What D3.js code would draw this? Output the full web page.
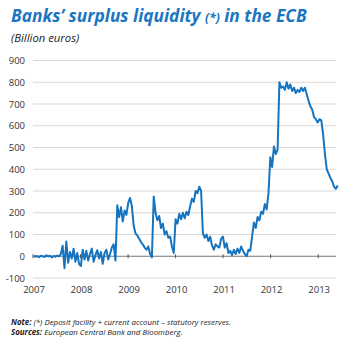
<!DOCTYPE html>
<html><head><meta charset="utf-8">
<script src="https://cdn.jsdelivr.net/npm/d3@7"></script>
<style>body{margin:0;background:#fff;}svg{display:block;}</style>
</head><body>
<svg id="c" width="341" height="338"></svg>
<script>
// Biweekly observations starting 2007-01-05 (billion euros)
const startDate = "2007-01-05";
const stepDays = 14;
const values2007 = [3,-2,1,-4,2,0,-3,4,-1,2,-5,1,-2,3,-1,10,48,-55,68,-30,20,-10,35,-25,15,-35];
const values2008 = [-45,30,-15,25,-20,10,35,-25,5,28,-10,20,-35,15,30,-15,10,40,55,-20,235,180,225,160,210,190];
const values2009 = [245,268,230,140,105,95,80,65,55,40,30,45,10,-5,275,200,165,185,130,150,100,115,85,90,45,15];
const values2010 = [170,150,195,170,200,175,205,190,230,265,250,300,290,320,300,105,85,100,70,90,50,30,55,45,40,80];
const values2011 = [90,40,60,15,25,5,30,10,35,15,45,25,10,0,30,25,90,155,130,180,165,205,195,240,215,290,455];
const values2012 = [410,505,470,490,800,775,780,765,800,770,790,760,775,750,765,755,775,760,775,745,715,690,675,640,630,615];
const values2013 = [630,625,560,470,400,380,360,345,320,310,325];
const yTicks = [-100,0,100,200,300,400,500,600,700,800,900];
const xTickYears = [2007,2008,2009,2010,2011,2012,2013];
const domainEnd = "2013-05-18";

(function(){
const values = [].concat(values2007, values2008, values2009, values2010, values2011, values2012, values2013);
const parse = d3.utcParse("%Y-%m-%d");
const t0 = parse(startDate);
const data = values.map((v, i) => ({date: d3.utcDay.offset(t0, i * stepDays), value: v}));

const svg = d3.select("#c");
const mLeft = 33, mRight = 336, mTop = 60.5, mBottom = 278;
const x = d3.scaleUtc().domain([new Date(Date.UTC(2007,0,1)), parse(domainEnd)]).range([mLeft, mRight]);
const y = d3.scaleLinear().domain([-100, 900]).range([mBottom, mTop]);

// title
const title = svg.append("text").attr("x", 11).attr("y", 22)
  .attr("font-family", "'Open Sans', sans-serif").attr("font-weight", "bold").attr("font-style", "italic")
  .attr("font-size", 17.3).attr("fill", "#1b76c2");
title.append("tspan").text("Banks’ surplus liquidity ");
title.append("tspan").attr("font-size", 12).text("(*)");
title.append("tspan").text(" in the ECB");

svg.append("text").attr("x", 11).attr("y", 42)
  .attr("font-family", "'Open Sans', sans-serif").attr("font-style", "italic")
  .attr("font-size", 11.3).attr("fill", "#222").text("(Billion euros)");

// gridlines
svg.append("g").selectAll("line").data(yTicks.filter(d => d !== 0)).join("line")
  .attr("x1", mLeft).attr("x2", mRight).attr("y1", d => y(d)).attr("y2", d => y(d))
  .attr("stroke", "#d9d9d9").attr("stroke-width", 1);

// y labels
svg.append("g").selectAll("text").data(yTicks).join("text")
  .attr("x", 25).attr("y", d => y(d) + 3.5).attr("text-anchor", "end")
  .attr("font-family", "'Open Sans', sans-serif").attr("font-size", 9.5).attr("fill", "#333")
  .text(d => d);

// zero axis
svg.append("line").attr("x1", mLeft).attr("x2", mRight).attr("y1", y(0)).attr("y2", y(0))
  .attr("stroke", "#777").attr("stroke-width", 1);
const yearDate = yr => new Date(Date.UTC(yr, 0, 1));
svg.append("g").selectAll("line").data(xTickYears).join("line")
  .attr("x1", d => x(yearDate(d))).attr("x2", d => x(yearDate(d)))
  .attr("y1", y(0) - 2).attr("y2", y(0) + 2).attr("stroke", "#555");

// x labels
svg.append("g").selectAll("text").data(xTickYears).join("text")
  .attr("x", d => x(yearDate(d)) + 1).attr("y", 293).attr("text-anchor", "middle")
  .attr("font-family", "'Open Sans', sans-serif").attr("font-size", 9.5).attr("fill", "#333")
  .text(d => d);

// line
svg.append("path").datum(data)
  .attr("d", d3.line().x(d => x(d.date)).y(d => y(d.value)))
  .attr("fill", "none").attr("stroke", "#1574c0").attr("stroke-width", 2).attr("stroke-linejoin", "round");

// notes
const n1 = svg.append("text").attr("x", 11).attr("y", 325)
  .attr("font-family", "'Open Sans', sans-serif").attr("font-style", "italic").attr("font-size", 7.9).attr("fill", "#222");
n1.append("tspan").attr("font-weight", "bold").text("Note:");
n1.append("tspan").text(" (*) Deposit facility + current account – statutory reserves.");
const n2 = svg.append("text").attr("x", 11).attr("y", 335)
  .attr("font-family", "'Open Sans', sans-serif").attr("font-style", "italic").attr("font-size", 7.9).attr("fill", "#222");
n2.append("tspan").attr("font-weight", "bold").text("Sources:");
n2.append("tspan").text(" European Central Bank and Bloomberg.");
})();
</script>
</body></html>
